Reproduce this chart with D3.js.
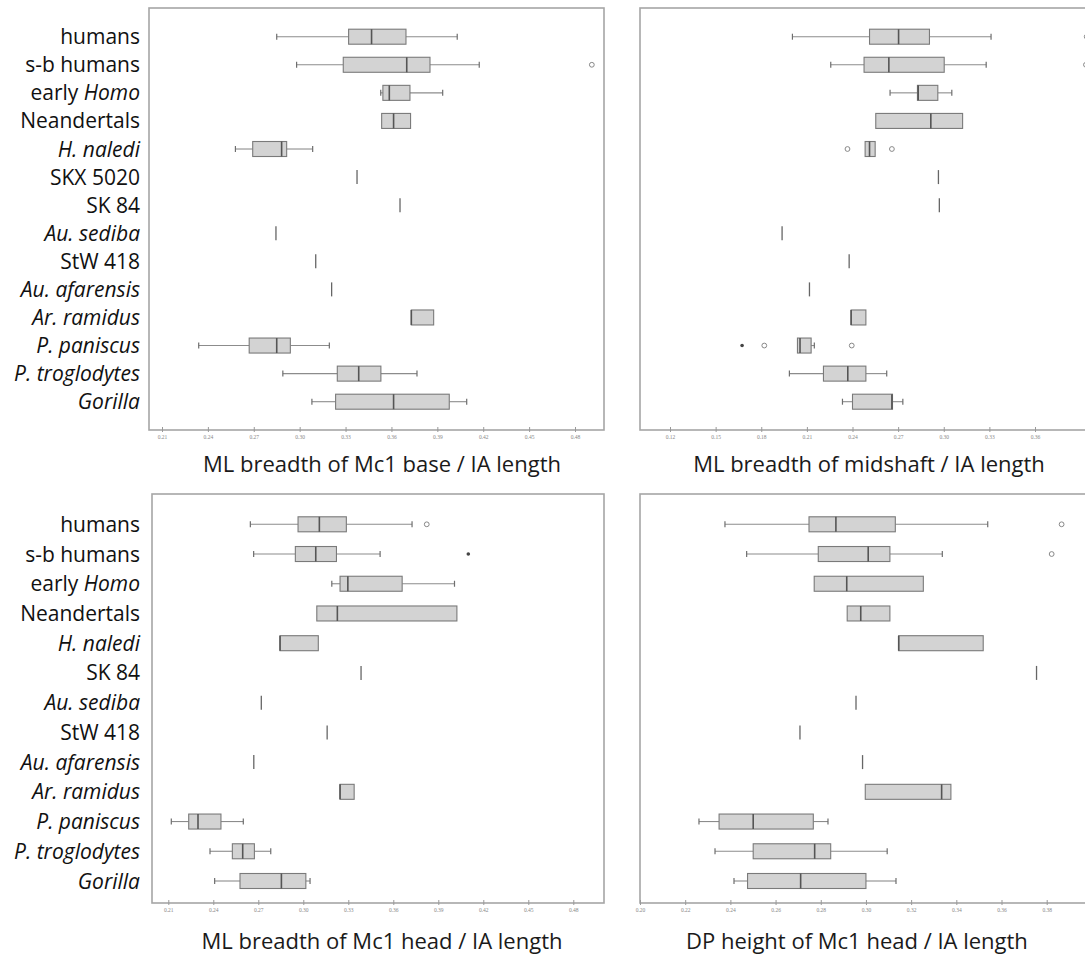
<!DOCTYPE html>
<html><head><meta charset="utf-8">
<script src="https://cdn.jsdelivr.net/npm/d3@7"></script>
<style>
body{margin:0;background:#fff;}
svg{display:block;}
</style></head><body>
<svg id="chart" width="1085" height="957"></svg>
<script>
// ---------- categories ----------
const catsTop = ["humans","s-b humans","early Homo","Neandertals","H. naledi","SKX 5020","SK 84","Au. sediba","StW 418","Au. afarensis","Ar. ramidus","P. paniscus","P. troglodytes","Gorilla"];
const catsBottom = ["humans","s-b humans","early Homo","Neandertals","H. naledi","SK 84","Au. sediba","StW 418","Au. afarensis","Ar. ramidus","P. paniscus","P. troglodytes","Gorilla"];
const italicWords = ["Homo","H. naledi","Au. sediba","Au. afarensis","Ar. ramidus","P. paniscus","P. troglodytes","Gorilla"];

// ---------- ML breadth of Mc1 base / IA length ----------
const baseLo  = [0.285,0.298,0.353,0.3536,0.258,0.3375,0.3656,0.2845,0.3105,0.3209,0.373,0.234,0.289,0.308];
const baseQ1  = [0.332,0.3285,0.3544,0.3536,0.2693,0.3375,0.3656,0.2845,0.3105,0.3209,0.373,0.267,0.3246,0.3235];
const baseMed = [0.347,0.370,0.3586,0.3614,0.2882,0.3375,0.3656,0.2845,0.3105,0.3209,0.373,0.285,0.3386,0.3614];
const baseQ3  = [0.3695,0.3852,0.3721,0.3725,0.2915,0.3375,0.3656,0.2845,0.3105,0.3209,0.3876,0.2939,0.3531,0.3978];
const baseHi  = [0.403,0.4174,0.3935,0.3725,0.3085,0.3375,0.3656,0.2845,0.3105,0.3209,0.3876,0.3194,0.3767,0.4092];
const baseOut = [{cat:"s-b humans",v:0.491,extreme:false}];
const baseTicks = [0.21,0.24,0.27,0.30,0.33,0.36,0.39,0.42,0.45,0.48];

// ---------- ML breadth of midshaft / IA length ----------
const midLo  = [0.2005,0.2257,0.2647,0.2553,0.2483,0.2965,0.2971,0.1937,0.2378,0.2117,0.2391,0.2038,0.1985,0.2334];
const midQ1  = [0.2512,0.2476,0.2827,0.2553,0.2483,0.2965,0.2971,0.1937,0.2378,0.2117,0.2391,0.2038,0.2209,0.2400];
const midMed = [0.2703,0.2639,0.2832,0.2915,0.2512,0.2965,0.2971,0.1937,0.2378,0.2117,0.2391,0.2055,0.2369,0.2659];
const midQ3  = [0.2906,0.3003,0.2961,0.3124,0.2549,0.2965,0.2971,0.1937,0.2378,0.2117,0.2488,0.2128,0.2488,0.2663];
const midHi  = [0.3311,0.3279,0.3053,0.3124,0.2549,0.2965,0.2971,0.1937,0.2378,0.2117,0.2488,0.2149,0.2625,0.2731];
const midOut = [{cat:"humans",v:0.394,extreme:false},{cat:"s-b humans",v:0.3935,extreme:false},
  {cat:"H. naledi",v:0.2367,extreme:false},{cat:"H. naledi",v:0.2659,extreme:false},
  {cat:"P. paniscus",v:0.1674,extreme:true},{cat:"P. paniscus",v:0.1820,extreme:false},{cat:"P. paniscus",v:0.2395,extreme:false}];
const midTicks = [0.12,0.15,0.18,0.21,0.24,0.27,0.30,0.33,0.36];

// ---------- ML breadth of Mc1 head / IA length ----------
const headLo  = [0.2647,0.2669,0.3190,0.3090,0.2845,0.3385,0.2720,0.3159,0.2670,0.3245,0.2120,0.2378,0.2409];
const headQ1  = [0.2965,0.2947,0.3245,0.3090,0.2845,0.3385,0.2720,0.3159,0.2670,0.3245,0.2236,0.2527,0.2578];
const headMed = [0.3107,0.3083,0.3297,0.3227,0.2845,0.3385,0.2720,0.3159,0.2670,0.3245,0.2298,0.2596,0.2854];
const headQ3  = [0.3287,0.3221,0.3659,0.4024,0.3100,0.3385,0.2720,0.3159,0.2670,0.3339,0.2451,0.2674,0.3017];
const headHi  = [0.3725,0.3512,0.4008,0.4024,0.3100,0.3385,0.2720,0.3159,0.2670,0.3339,0.2600,0.2783,0.3045];
const headOut = [{cat:"humans",v:0.3823,extreme:false},{cat:"s-b humans",v:0.410,extreme:true}];
const headTicks = [0.21,0.24,0.27,0.30,0.33,0.36,0.39,0.42,0.45,0.48];

// ---------- DP height of Mc1 head / IA length ----------
const dpLo  = [0.2376,0.2472,0.2771,0.2917,0.3145,0.3755,0.2956,0.2708,0.2985,0.2997,0.2261,0.2332,0.2416];
const dpQ1  = [0.2748,0.2789,0.2771,0.2917,0.3145,0.3755,0.2956,0.2708,0.2985,0.2997,0.2350,0.2501,0.2476];
const dpMed = [0.2867,0.3010,0.2915,0.2977,0.3145,0.3755,0.2956,0.2708,0.2985,0.3335,0.2501,0.2773,0.2711];
const dpQ3  = [0.3130,0.3106,0.3254,0.3106,0.3519,0.3755,0.2956,0.2708,0.2985,0.3376,0.2767,0.2844,0.3000];
const dpHi  = [0.3539,0.3338,0.3254,0.3106,0.3519,0.3755,0.2956,0.2708,0.2985,0.3376,0.2832,0.3094,0.3133];
const dpOut = [{cat:"humans",v:0.3866,extreme:false},{cat:"s-b humans",v:0.3822,extreme:false}];
const dpTicks = [0.20,0.22,0.24,0.26,0.28,0.30,0.32,0.34,0.36,0.38];

const svg = d3.select("#chart");
const FONT = "'Open Sans', 'Noto Sans', sans-serif";

function panel(cfg){
  const x = d3.scaleLinear().domain([cfg.ticks[0], cfg.ticks[cfg.ticks.length-1]]).range(cfg.xr);
  const y = d3.scalePoint().domain(cfg.cats).range(cfg.yr);
  const g = svg.append("g");
  const f = cfg.frame;
  const clipId = "clip" + Math.round(f.x0) + "_" + Math.round(f.y0);
  svg.append("clipPath").attr("id", clipId).append("rect")
    .attr("x", f.x0).attr("y", f.y0).attr("width", f.x1 - f.x0).attr("height", f.y1 - f.y0);
  g.append("rect").attr("x", f.x0).attr("y", f.y0).attr("width", f.x1 - f.x0).attr("height", f.y1 - f.y0)
    .attr("fill", "#fff").attr("stroke", "#a6a6a6").attr("stroke-width", 1.6);

  const rows = cfg.cats.map((c,i)=>({c, lo:cfg.lo[i], q1:cfg.q1[i], med:cfg.med[i], q3:cfg.q3[i], hi:cfg.hi[i]}));
  const bh = 15, cap = 6;
  const mg = g.append("g").attr("clip-path", `url(#${clipId})`);
  rows.forEach(r=>{
    const cy = y(r.c);
    const wc = "#8c8c8c";
    if (r.lo < r.q1) {
      mg.append("line").attr("x1", x(r.lo)).attr("x2", x(r.q1)).attr("y1", cy).attr("y2", cy).attr("stroke", wc).attr("stroke-width", 1.1);
      mg.append("line").attr("x1", x(r.lo)).attr("x2", x(r.lo)).attr("y1", cy-cap/2).attr("y2", cy+cap/2).attr("stroke", "#6e6e6e").attr("stroke-width", 1.2);
    }
    if (r.hi > r.q3) {
      mg.append("line").attr("x1", x(r.q3)).attr("x2", x(r.hi)).attr("y1", cy).attr("y2", cy).attr("stroke", wc).attr("stroke-width", 1.1);
      mg.append("line").attr("x1", x(r.hi)).attr("x2", x(r.hi)).attr("y1", cy-cap/2).attr("y2", cy+cap/2).attr("stroke", "#6e6e6e").attr("stroke-width", 1.2);
    }
    if (r.q3 > r.q1) {
      mg.append("rect").attr("x", x(r.q1)).attr("y", cy-bh/2).attr("width", x(r.q3)-x(r.q1)).attr("height", bh)
        .attr("fill", "#d3d3d3").attr("stroke", "#7a7a7a").attr("stroke-width", 1.1);
      mg.append("line").attr("x1", x(r.med)).attr("x2", x(r.med)).attr("y1", cy-bh/2).attr("y2", cy+bh/2)
        .attr("stroke", "#555").attr("stroke-width", 1.6);
    } else {
      mg.append("line").attr("x1", x(r.med)).attr("x2", x(r.med)).attr("y1", cy-7).attr("y2", cy+7)
        .attr("stroke", "#666").attr("stroke-width", 1.3);
    }
  });
  cfg.out.forEach(o=>{
    const c = mg.append("circle").attr("cx", x(o.v)).attr("cy", y(o.cat)).attr("r", o.extreme ? 1.8 : 2.4);
    if (o.extreme) c.attr("fill", "#444");
    else c.attr("fill", "none").attr("stroke", "#888").attr("stroke-width", 1);
  });

  const ax = d3.axisBottom(x).tickValues(cfg.ticks).tickSize(3).tickFormat(d3.format(".2f"));
  const ag = g.append("g").attr("transform", `translate(0,${f.y1})`).call(ax);
  ag.select(".domain").remove();
  ag.selectAll(".tick line").attr("stroke", "#999").attr("y1", -3).attr("y2", 2);
  ag.selectAll(".tick text").attr("fill", "#888").attr("font-size", 5.5).attr("font-family", "'Liberation Serif', serif").attr("dy", "0.5em");

  g.append("text").attr("x", cfg.titleX).attr("y", cfg.titleY).attr("text-anchor", "middle")
    .attr("font-family", FONT).attr("font-size", 22).attr("fill", "#1a1a1a").text(cfg.title);

  if (cfg.labels) {
    cfg.cats.forEach(c=>{
      const t = svg.append("text").attr("x", 140).attr("y", y(c)).attr("dy", "0.36em").attr("text-anchor", "end")
        .attr("font-family", FONT).attr("font-size", 21).attr("fill", "#111");
      if (c === "early Homo") {
        t.append("tspan").text("early ");
        t.append("tspan").attr("font-style", "italic").text("Homo");
      } else {
        t.text(c);
        if (italicWords.includes(c)) t.attr("font-style", "italic");
      }
    });
  }
}

panel({cats:catsTop, lo:baseLo, q1:baseQ1, med:baseMed, q3:baseQ3, hi:baseHi, out:baseOut, ticks:baseTicks,
  xr:[162,575], yr:[36.7,401.7], frame:{x0:149,x1:604,y0:8,y1:430},
  title:"ML breadth of Mc1 base / IA length", titleX:382, titleY:472, labels:true});
panel({cats:catsTop, lo:midLo, q1:midQ1, med:midMed, q3:midQ3, hi:midHi, out:midOut, ticks:midTicks,
  xr:[670,1035], yr:[36.7,401.7], frame:{x0:640,x1:1100,y0:8,y1:430},
  title:"ML breadth of midshaft / IA length", titleX:869, titleY:472, labels:false});
panel({cats:catsBottom, lo:headLo, q1:headQ1, med:headMed, q3:headQ3, hi:headHi, out:headOut, ticks:headTicks,
  xr:[168.3,573.3], yr:[524.3,881], frame:{x0:152,x1:604,y0:494,y1:903},
  title:"ML breadth of Mc1 head / IA length", titleX:382, titleY:949, labels:true});
panel({cats:catsBottom, lo:dpLo, q1:dpQ1, med:dpMed, q3:dpQ3, hi:dpHi, out:dpOut, ticks:dpTicks,
  xr:[640,1046.7], yr:[524.3,881], frame:{x0:640,x1:1100,y0:494,y1:903},
  title:"DP height of Mc1 head / IA length", titleX:857, titleY:949, labels:false});
</script>
</body></html>
